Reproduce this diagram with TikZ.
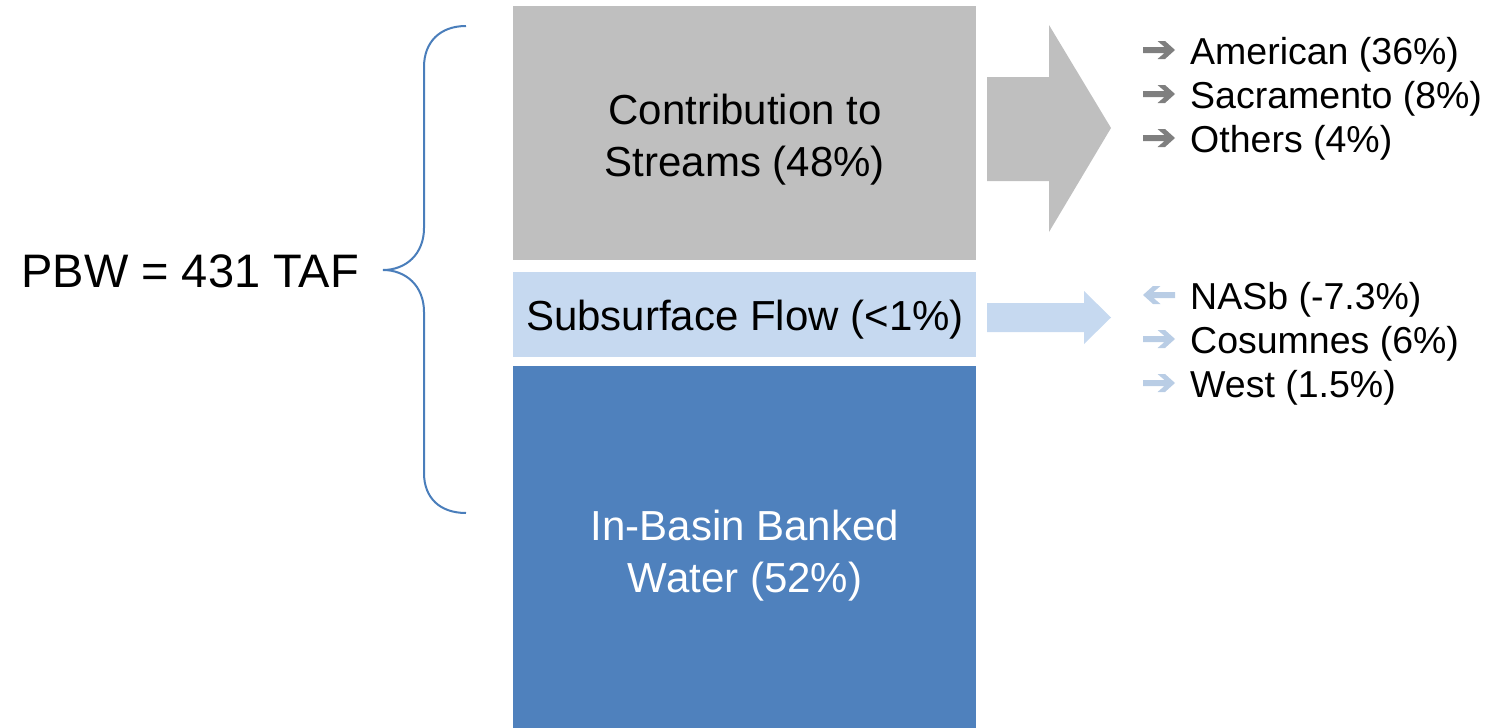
\documentclass[tikz,border=0pt]{standalone}
\usepackage{fontspec}
\setmainfont{Liberation Sans}
\definecolor{boxgray}{HTML}{BFBFBF}
\definecolor{boxlight}{HTML}{C6D9F0}
\definecolor{boxdark}{HTML}{4F81BD}
\definecolor{bracecol}{HTML}{4A7EBB}
\definecolor{bulgray}{HTML}{7F7F7F}
\definecolor{bullight}{HTML}{B9CDE5}
\tikzset{
  blockbox/.style={rectangle, draw=none, inner sep=0pt, outer sep=0pt},
  bigtxt/.style={inner sep=0pt, anchor=base, font=\fontsize{42}{50}\selectfont},
  listtxt/.style={inner sep=0pt, anchor=base west, font=\fontsize{37.5}{44}\selectfont},
  bracestyle/.style={draw=bracecol, line width=2pt},
  bul/.pic={\fill[pic actions] (0,0) -- (-10,-9) -- (-17.5,-9) -- (-10.5,-3) -- (-32,-3) -- (-32,3) -- (-10.5,3) -- (-17.5,9) -- (-10,9) -- cycle;}
}
\begin{document}
\begin{tikzpicture}[x=1pt,y=-1pt]
\useasboundingbox (0,0) rectangle (1486,728);
% blocks
\node[blockbox, fill=boxgray, minimum width=463pt, minimum height=254pt] (cs) at (744.5,133) {};
\node[blockbox, fill=boxlight, minimum width=463pt, minimum height=85pt] (sf) at (744.5,314.5) {};
\node[blockbox, fill=boxdark, minimum width=463pt, minimum height=362pt] (ib) at (744.5,547) {};
% block texts
\node[bigtxt] (cs1) at (745,124) {Contribution to};
\node[bigtxt] (cs2) at (745,176) {Streams (48\%)};
\node[bigtxt] (sf1) at (745,330) {Subsurface Flow (<1\%)};
\node[bigtxt, text=white] (ib1) at (745,540) {In-Basin Banked};
\node[bigtxt, text=white] (ib2) at (745,592) {Water (52\%)};
% left label
\node[inner sep=0pt, anchor=base, font=\fontsize{47}{56}\selectfont] (pbw) at (190,287) {PBW = 431 TAF};
% brace
\coordinate (bt) at (466,26);
\coordinate (bm) at (383,270);
\coordinate (bb) at (466,513);
\draw[bracestyle] (bt) .. controls (440,26) and (424,42) .. (424,67) -- (424,228)
  .. controls (424,254) and (406,270) .. (bm)
  .. controls (406,270) and (424,286) .. (424,312) -- (424,473)
  .. controls (424,498) and (440,513) .. (bb);
% big arrows
\fill[boxgray] (987,77) -- (1049,77) -- (1049,25) -- (1111,128) -- (1049,232) -- (1049,181) -- (987,181) -- cycle;
\fill[boxlight] (987,303) -- (1084,303) -- (1084,291) -- (1111,317.5) -- (1084,344) -- (1084,332) -- (987,332) -- cycle;
% right lists
\node[listtxt] (l1) at (1190,64) {American (36\%)};
\node[listtxt] (l2) at (1190,108) {Sacramento (8\%)};
\node[listtxt] (l3) at (1190,152) {Others (4\%)};
\node[listtxt] (l4) at (1190,309) {NASb (-7.3\%)};
\node[listtxt] (l5) at (1190,353) {Cosumnes (6\%)};
\node[listtxt] (l6) at (1190,397) {West (1.5\%)};
\pic[fill=bulgray] (p1) at (1175,50) {bul};
\pic[fill=bulgray] (p2) at (1175,94) {bul};
\pic[fill=bulgray] (p3) at (1175,138) {bul};
\pic[fill=bullight, xscale=-1] (p4) at (1143,295) {bul};
\pic[fill=bullight] (p5) at (1175,339) {bul};
\pic[fill=bullight] (p6) at (1175,383) {bul};
\end{tikzpicture}
\end{document}
